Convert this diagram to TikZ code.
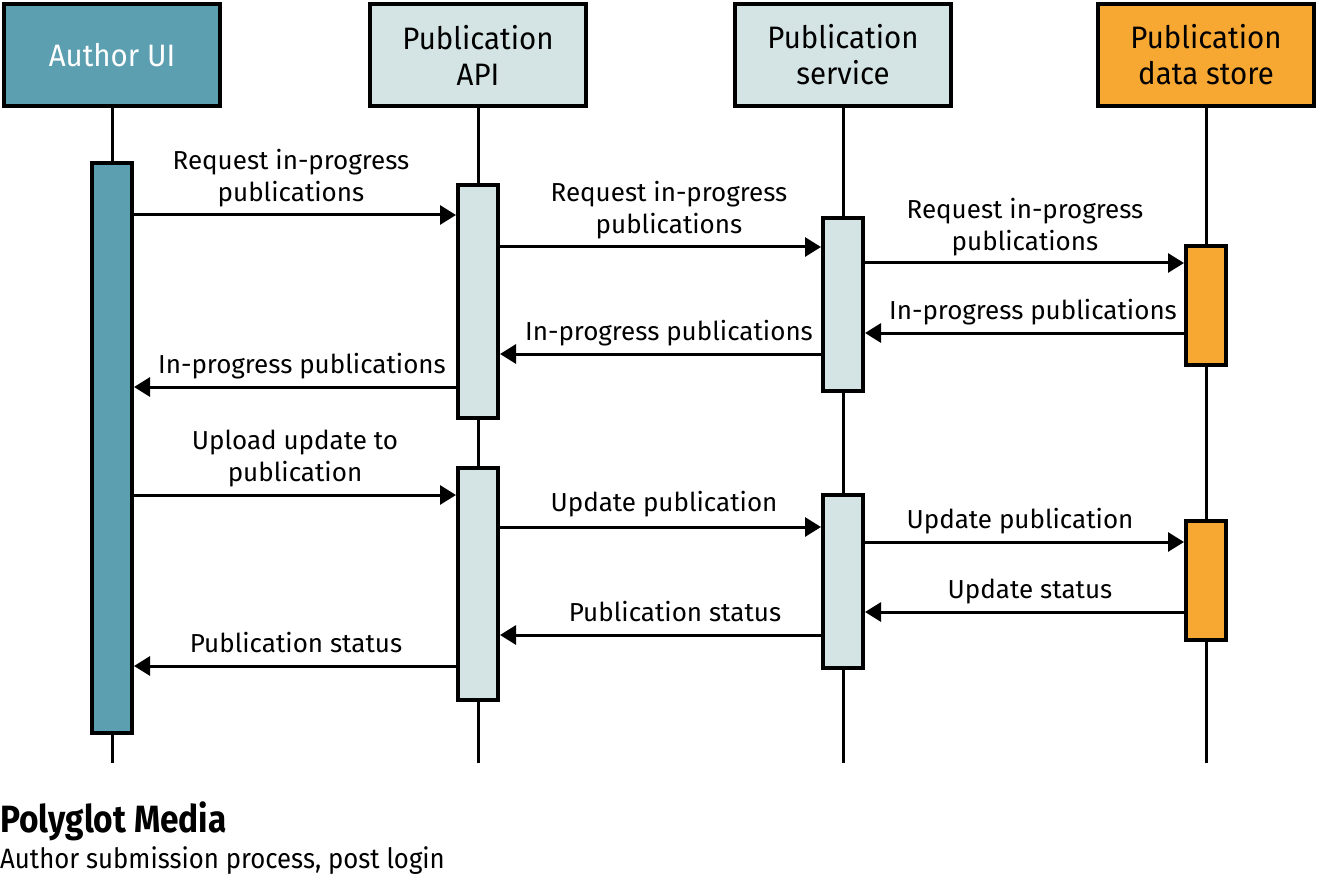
\documentclass[tikz,border=0pt]{standalone}
\usepackage{fontspec}
\setmainfont{Fira Sans}
\newfontfamily\headfont{Fira Sans}[FakeStretch=0.95]
\newfontfamily\titlefont{Fira Sans}[FakeStretch=0.88]
\newfontfamily\subfont{Fira Sans}[FakeStretch=0.92]
\usetikzlibrary{arrows.meta}
\definecolor{teal}{HTML}{5B9FB0}
\definecolor{pale}{HTML}{D4E3E3}
\definecolor{orng}{HTML}{F7A833}
\begin{document}
\begin{tikzpicture}[x=1pt,y=-1pt,
  head/.style={draw=black,line width=4pt,minimum width=216pt,minimum height=102pt,
    inner sep=0pt,align=center,font=\headfont\fontsize{31}{36}\selectfont},
  bar/.style={draw=black,line width=4pt,minimum width=40pt,inner sep=0pt},
  life/.style={line width=3pt},
  msg/.style={line width=3pt,-{Triangle[length=16pt,width=19pt]}},
  lbl/.style={anchor=south,inner sep=0pt,align=center,text depth=0pt,
    font=\fontsize{26}{32}\selectfont}]
\useasboundingbox (0,0) rectangle (1319,877);
% headers
\node[head,fill=teal,text=white] (h1) at (112,55) {Author UI};
\node[head,fill=pale] (h2) at (478,55) {Publication\\API};
\node[head,fill=pale] (h3) at (843,55) {Publication\\service};
\node[head,fill=orng] (h4) at (1206,55) {Publication\\data store};
% lifeline ends
\coordinate (e1) at (112,763);
\coordinate (e2) at (478,763);
\coordinate (e3) at (843,763);
\coordinate (e4) at (1206,763);
\draw[life] (h1.south) -- (e1);
\draw[life] (h2.south) -- (e2);
\draw[life] (h3.south) -- (e3);
\draw[life] (h4.south) -- (e4);
% activation bars
\node[bar,fill=teal,minimum height=570pt] (a1) at (112,448) {};
\node[bar,fill=pale,minimum height=233pt] (b1) at (478,301.5) {};
\node[bar,fill=pale,minimum height=232pt] (b2) at (478,584) {};
\node[bar,fill=pale,minimum height=173pt] (c1) at (843,304.5) {};
\node[bar,fill=pale,minimum height=173pt] (c2) at (843,581.5) {};
\node[bar,fill=orng,minimum height=119pt] (d1) at (1206,305.5) {};
\node[bar,fill=orng,minimum height=119pt] (d2) at (1206,580.5) {};
% messages
\draw[msg] (a1.east |- 0,215) -- (b1.west |- 0,215);
\node[lbl] (l1) at (291,202) {Request in-progress\\publications};
\draw[msg] (b1.east |- 0,247) -- (c1.west |- 0,247);
\node[lbl] (l2) at (669,234) {Request in-progress\\publications};
\draw[msg] (c1.east |- 0,263) -- (d1.west |- 0,263);
\node[lbl] (l3) at (1025,251) {Request in-progress\\publications};
\draw[msg] (d1.west |- 0,333) -- (c1.east |- 0,333);
\node[lbl] (l4) at (1033,320) {In-progress publications};
\draw[msg] (c1.west |- 0,354) -- (b1.east |- 0,354);
\node[lbl] (l5) at (669,341) {In-progress publications};
\draw[msg] (b1.west |- 0,387) -- (a1.east |- 0,387);
\node[lbl] (l6) at (302,374) {In-progress publications};
\draw[msg] (a1.east |- 0,495) -- (b2.west |- 0,495);
\node[lbl] (l7) at (295,482) {Upload update to\\publication};
\draw[msg] (b2.east |- 0,527) -- (c2.west |- 0,527);
\node[lbl] (l8) at (664,512) {Update publication};
\draw[msg] (c2.east |- 0,542) -- (d2.west |- 0,542);
\node[lbl] (l9) at (1020,529) {Update publication};
\draw[msg] (d2.west |- 0,612) -- (c2.east |- 0,612);
\node[lbl] (l10) at (1030,599) {Update status};
\draw[msg] (c2.west |- 0,635) -- (b2.east |- 0,635);
\node[lbl] (l11) at (675,622) {Publication status};
\draw[msg] (b2.west |- 0,666) -- (a1.east |- 0,666);
\node[lbl] (l12) at (296,653) {Publication status};
% title
\node[anchor=base west,inner sep=0pt,font=\titlefont\fontsize{38}{44}\selectfont\bfseries] (t1) at (0,832) {Polyglot Media};
\node[anchor=base west,inner sep=0pt,font=\subfont\fontsize{28}{32}\selectfont] (t2) at (0,868) {Author submission process, post login};
\end{tikzpicture}
\end{document}
